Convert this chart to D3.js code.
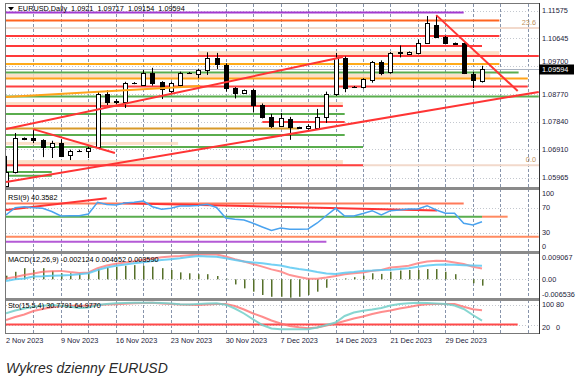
<!DOCTYPE html>
<html><head><meta charset="utf-8">
<script src="https://cdn.jsdelivr.net/npm/d3@7"></script>
<style>
body{margin:0;background:#fff;}
svg{display:block;}
text{font-family:"Liberation Sans",Arial,sans-serif;}
</style>
</head><body>
<svg id="c" width="576" height="382"></svg>
<script>
// ---------------- DATA ----------------
const title = "EURUSD,Daily  1.0921  1.09717  1.09154  1.09594";
const dateLabels = ["2 Nov 2023","9 Nov 2023","16 Nov 2023","23 Nov 2023","30 Nov 2023","7 Dec 2023","14 Dec 2023","21 Dec 2023","29 Dec 2023"];
const dateIdx = [0,6,12,18,24,30,36,42,48];
const priceTicks = [1.11575,1.10645,1.09700,1.08770,1.07840,1.06910,1.05965];
const lastPrice = 1.09594;

const opens  = [1.0568,1.0615,1.0726,1.0728,1.0722,1.0699,1.0712,1.0672,1.0685,1.0686,1.0699,1.0877,1.0849,1.0850,1.0913,1.0907,1.0948,1.0917,1.0887,1.0907,1.0947,1.0944,1.0958,1.0998,1.0974,1.0897,1.0880,1.0890,1.0840,1.0800,1.0770,1.0793,1.0763,1.0763,1.0763,1.0800,1.0877,1.0998,1.0899,1.0901,1.0924,1.0985,1.0951,1.1016,1.1011,1.1015,1.1048,1.1109,1.1069,1.1048,1.1048,1.0944,1.0921];
const highs  = [1.0669,1.0746,1.0731,1.0756,1.0725,1.0720,1.0725,1.0690,1.0690,1.0700,1.0887,1.0890,1.0860,1.0918,1.0917,1.0958,1.0965,1.0920,1.0918,1.0952,1.0951,1.0962,1.1017,1.1015,1.0980,1.0900,1.0892,1.0895,1.0845,1.0810,1.0813,1.0800,1.0767,1.0775,1.0827,1.0885,1.1015,1.1003,1.0904,1.0930,1.0988,1.0990,1.1018,1.1040,1.1020,1.1060,1.1139,1.1142,1.1072,1.1050,1.1050,1.0951,1.09717];
const lows   = [1.0560,1.0610,1.0722,1.0712,1.0665,1.0662,1.0665,1.0655,1.0682,1.0662,1.0693,1.0840,1.0842,1.0830,1.0910,1.0905,1.0905,1.0860,1.0880,1.0900,1.0945,1.0930,1.0941,1.0961,1.0885,1.0862,1.0878,1.0815,1.0795,1.0763,1.0766,1.0723,1.0760,1.0757,1.0758,1.0780,1.0870,1.0883,1.0897,1.0895,1.0915,1.0940,1.0945,1.1000,1.1010,1.1010,1.1045,1.1065,1.1045,1.1044,1.0944,1.0897,1.09154];
const closes = [1.0615,1.0729,1.0728,1.0722,1.0699,1.0712,1.0669,1.0686,1.0687,1.0696,1.0877,1.0850,1.0852,1.0914,1.0915,1.0948,1.0914,1.0894,1.0914,1.0948,1.0949,1.0958,1.0998,1.0978,1.0897,1.0880,1.0890,1.0840,1.0800,1.0770,1.0796,1.0766,1.0765,1.0770,1.0800,1.0877,1.0998,1.0897,1.0902,1.0927,1.0985,1.0948,1.1015,1.1018,1.1018,1.1048,1.1116,1.1069,1.1048,1.1046,1.0948,1.0924,1.09594];

const levelPrices = [1.1151,1.1124,1.1072,1.1038,1.1005,1.0978,1.0949,1.0929,1.0902,1.0869,1.0837,1.0810,1.0783,1.0761,1.0739,1.0699,1.0638,1.0615,1.0602];
const levelColors = ["#a23ad0","#ff6420","#ff3a3a","#ff3a3a","#ff3a3a","#ffab1a","#5aad4e","#ffa31a","#ff4040","#5aad4e","#ff4040","#5aad4e","#ff4040","#d79a2a","#5aad4e","#5aad4e","#ff4040","#5aad4e","#5aad4e"];
const levelFrom = [0,0,0,0,0,0,0,0,0,0,0,0,28,0,0,0,0,0,0];
const levelTo   = [50,53.9,53.9,52,58.2,53.9,56,57,57,58.2,36.8,37,37,32,37,39,39,5,5];
const zoneTop    = [1.1021,1.0944,1.0850,1.0716,1.0655];
const zoneBottom = [1.1006,1.0931,1.0837,1.0706,1.0638];
const zoneFrom   = [21,0,0,0,0];
const zoneTo     = [53.9,52.9,36.8,18.8,36.8];
const fibPrices = [1.1099,1.0638];
const fibLabels = ["23.6","0.0"];
const trendRed = [[0,1.0759,36.8,1.1001],[0,1.0581,58.2,1.0884],[47,1.1142,55.9,1.0887],[2.95,1.0759,11.9,1.0679]];
const trendOrange = [[0,1.0867,21.2,1.0904]];

const rsi = [58.4,70.1,71.7,70.1,69.1,64,56.8,57.3,57.3,60,78.7,75.2,74.4,77.6,78.7,80.8,71.7,67.5,69.1,72.8,72.8,73.6,75.5,70.4,53.6,51.5,50.4,45.1,39.2,33.6,37.6,35.5,35.5,36,45.6,57.6,69.1,56.8,56.8,60.8,65.3,58.4,65.3,66.4,68,68,73.3,66.4,61.1,61.1,45.1,42.4,47.5];
const rsiTicks = [100,70,30,0];
const rsiLevelVals = [76.8,55.7,23.7,15.7];
const rsiLevelColors = ["#ff7a5a","#5aad4e","#ff8a60","#b45ad6"];
const rsiLevelFrom = [0,0,0,0];
const rsiLevelTo = [50,52,58.2,35];
const rsiTrends = [[0,66.4,11,85.1],[12.8,77.1,47.1,65.6]];

const macdHist = [0.0012,0.0025,0.0037,0.0031,0.0037,0.0028,0.0020,0.0020,0.0020,0.0025,0.0034,0.0039,0.0042,0.0045,0.0047,0.0045,0.0042,0.0037,0.0031,0.0023,0.0020,0.0017,0.0017,0.0011,0.0002,-0.0017,-0.0030,-0.0041,-0.0052,-0.0058,-0.0058,-0.0061,-0.0058,-0.0052,-0.0041,-0.0028,-0.0001,0.0003,0.0007,0.0012,0.0020,0.0018,0.0025,0.0029,0.0031,0.0031,0.0034,0.0034,0.0025,0.0017,0.0001,-0.0013,-0.0021];
const macdBlue = [-0.0006,0.0000,0.0003,0.0009,0.0010,0.0012,0.0013,0.0014,0.0017,0.0020,0.0031,0.0039,0.0045,0.0049,0.0053,0.0057,0.0061,0.0064,0.0067,0.0070,0.0074,0.0077,0.0076,0.0075,0.0070,0.0064,0.0059,0.0056,0.0053,0.0049,0.0046,0.0039,0.0034,0.0030,0.0024,0.0019,0.0018,0.0022,0.0024,0.0028,0.0029,0.0031,0.0032,0.0034,0.0037,0.0042,0.0046,0.0048,0.0049,0.0048,0.0047,0.0046,0.0045];
const macdRed = [0.0003,0.0008,0.0014,0.0019,0.0025,0.0027,0.0028,0.0024,0.0021,0.0023,0.0037,0.0046,0.0052,0.0056,0.0060,0.0065,0.0069,0.0073,0.0076,0.0077,0.0080,0.0082,0.0083,0.0082,0.0076,0.0067,0.0059,0.0051,0.0042,0.0033,0.0026,0.0014,0.0008,0.0002,0.0002,0.0006,0.0011,0.0017,0.0020,0.0023,0.0028,0.0031,0.0039,0.0042,0.0045,0.0053,0.0059,0.0062,0.0061,0.0056,0.0051,0.0042,0.0036];
const macdTickVals = [0.009067,0,-0.006536];
const macdTickLabels = ["0.009067","0.00","-0.006536"];

const stoK = [55.2,64,70.3,75.9,78.8,81.3,79.1,75.9,71.9,73.4,81.3,84.4,86.6,87.5,88.4,88.4,88.4,87.5,85.9,83.4,82.5,84.4,85.9,86.6,82.2,70.3,54.7,36.6,18.8,7.8,5.3,5.3,5.3,5.3,10.9,18.8,26.6,46.9,57.8,63.4,67.2,71.9,79.7,84.4,86.6,88.1,87.5,85.9,84.4,79.7,68.8,50,32.2];
const stoD = [34.4,43.8,51.6,62.5,68.8,74.1,77.5,78.8,79.1,78.8,81.3,82.5,83.4,85,86.6,87.5,88.4,85.9,84.4,82.8,81.9,81.3,82.8,84.4,84.4,78.1,67.2,54.7,44.4,32.8,23.4,15.6,11.6,8.4,10.9,17.2,23.4,31.3,39.1,45.3,53.1,59.4,64.1,70.3,75,80.3,83.4,84.4,84.4,84.4,76,68,64.98];
const stoTicks = [100,80,20,0];

// ---------------- CHART ----------------
const svg = d3.select("#c");
const L = 6, R = 539;
const x = d3.scaleLinear().domain([0,52]).range([6,482]);
const yP = d3.scaleLinear().domain([1.05965,1.11575]).range([177.5,10.5]);
const yR = d3.scaleLinear().domain([0,100]).range([251.5,189]);
const yM = d3.scaleLinear().domain([-0.006536,0.009067]).range([299,252]);
const yS = d3.scaleLinear().domain([0,100]).range([331,299]);

const panels = [[4,187],[189,251],[253,298],[300,333]];
const defs = svg.append("defs");
panels.forEach((p,k)=>{
  defs.append("clipPath").attr("id","cp"+k).append("rect").attr("x",L).attr("y",p[0]).attr("width",R-L).attr("height",p[1]-p[0]);
});
svg.append("rect").attr("width",576).attr("height",382).attr("fill","#fff");

const gGrid = svg.append("g").attr("shape-rendering","crispEdges");
const gridIdx = d3.range(3,58,3);
panels.forEach((p,k)=>{
  gGrid.selectAll(null).data(gridIdx).join("line")
    .attr("x1",d=>Math.round(x(d))+0.5).attr("x2",d=>Math.round(x(d))+0.5)
    .attr("y1",p[0]).attr("y2",p[1])
    .attr("stroke","#8794ab").attr("stroke-dasharray","3,2").attr("stroke-width",1);
});
gGrid.selectAll(null).data(priceTicks).join("line")
  .attr("x1",L).attr("x2",R).attr("y1",d=>Math.round(yP(d))+0.5).attr("y2",d=>Math.round(yP(d))+0.5)
  .attr("stroke","#c4c8cf").attr("stroke-dasharray","1,2");
gGrid.selectAll(null).data([70,30]).join("line")
  .attr("x1",L).attr("x2",R).attr("y1",d=>Math.round(yR(d))+0.5).attr("y2",d=>Math.round(yR(d))+0.5)
  .attr("stroke","#c4c8cf").attr("stroke-dasharray","1,2");
gGrid.append("line").attr("x1",L).attr("x2",R).attr("y1",Math.round(yM(0))+0.5).attr("y2",Math.round(yM(0))+0.5)
  .attr("stroke","#c4c8cf").attr("stroke-dasharray","1,2");
gGrid.selectAll(null).data([80,20]).join("line")
  .attr("x1",L).attr("x2",R).attr("y1",d=>Math.round(yS(d))+0.5).attr("y2",d=>Math.round(yS(d))+0.5)
  .attr("stroke","#c4c8cf").attr("stroke-dasharray","1,2");

const gM = svg.append("g").attr("clip-path","url(#cp0)");
gM.selectAll(null).data(zoneTop).join("rect")
  .attr("x",(d,i)=>x(zoneFrom[i])).attr("width",(d,i)=>x(zoneTo[i])-x(zoneFrom[i]))
  .attr("y",d=>yP(d)).attr("height",(d,i)=>yP(zoneBottom[i])-yP(d))
  .attr("fill","#fcd9bd").attr("opacity",0.85);
gM.selectAll(null).data(fibPrices).join("line")
  .attr("x1",L).attr("x2",R).attr("y1",d=>yP(d)).attr("y2",d=>yP(d))
  .attr("stroke","#f2d9cb").attr("stroke-width",2);
gM.append("line").attr("x1",L).attr("x2",R).attr("y1",Math.round(yP(lastPrice))+0.5).attr("y2",Math.round(yP(lastPrice))+0.5)
  .attr("stroke","#a9b2c0").attr("stroke-width",1);
gM.selectAll(null).data(levelPrices).join("line")
  .attr("x1",(d,i)=>x(levelFrom[i])).attr("x2",(d,i)=>x(levelTo[i]))
  .attr("y1",d=>yP(d)).attr("y2",d=>yP(d))
  .attr("stroke",(d,i)=>levelColors[i]).attr("stroke-width",2);
svg.selectAll(null).data(fibPrices).join("text")
  .attr("x",536).attr("y",d=>yP(d)-3).attr("text-anchor","end")
  .attr("font-size",7.3).attr("fill","#c0905a").text((d,i)=>fibLabels[i]);
const gC = gM.append("g");
const bars = d3.range(opens.length);
gC.selectAll(null).data(bars).join("line")
  .attr("x1",i=>Math.round(x(i))+0.5).attr("x2",i=>Math.round(x(i))+0.5)
  .attr("y1",i=>yP(highs[i])).attr("y2",i=>yP(lows[i]))
  .attr("stroke","#000").attr("stroke-width",1);
gC.selectAll(null).data(bars).join("rect")
  .attr("x",i=>Math.round(x(i))-2+0.5).attr("width",4)
  .attr("y",i=>Math.round(yP(Math.max(opens[i],closes[i])))+0.5)
  .attr("height",i=>Math.max(0.01,Math.round(yP(Math.min(opens[i],closes[i])))-Math.round(yP(Math.max(opens[i],closes[i])))))
  .attr("fill",i=>closes[i]>=opens[i]?"#fff":"#000").attr("stroke","#000").attr("stroke-width",1);
gM.selectAll(null).data(trendOrange).join("line")
  .attr("x1",d=>x(d[0])).attr("y1",d=>yP(d[1])).attr("x2",d=>x(d[2])).attr("y2",d=>yP(d[3]))
  .attr("stroke","#ffa31a").attr("stroke-width",2);
gM.selectAll(null).data(trendRed).join("line")
  .attr("x1",d=>x(d[0])).attr("y1",d=>yP(d[1])).attr("x2",d=>x(d[2])).attr("y2",d=>yP(d[3]))
  .attr("stroke","#ff3434").attr("stroke-width",2);

const gR = svg.append("g").attr("clip-path","url(#cp1)");
gR.selectAll(null).data(rsiLevelVals).join("line")
  .attr("x1",(d,i)=>x(rsiLevelFrom[i])).attr("x2",(d,i)=>x(rsiLevelTo[i]))
  .attr("y1",d=>yR(d)).attr("y2",d=>yR(d))
  .attr("stroke",(d,i)=>rsiLevelColors[i]).attr("stroke-width",2);
gR.append("line").attr("x1",x(52)).attr("x2",x(54.8)).attr("y1",yR(55.7)).attr("y2",yR(55.7)).attr("stroke","#ff8a60").attr("stroke-width",2);
gR.selectAll(null).data(rsiTrends).join("line")
  .attr("x1",d=>x(d[0])).attr("y1",d=>yR(d[1])).attr("x2",d=>x(d[2])).attr("y2",d=>yR(d[3]))
  .attr("stroke","#ff3434").attr("stroke-width",2);
gR.append("path").datum(rsi)
  .attr("d",d3.line().x((d,i)=>x(i)).y(d=>yR(d)))
  .attr("fill","none").attr("stroke","#4aa3ef").attr("stroke-width",1.5);

const gMa = svg.append("g").attr("clip-path","url(#cp2)");
gMa.selectAll(null).data(macdHist).join("rect")
  .attr("x",(d,i)=>Math.round(x(i))).attr("width",1.5)
  .attr("y",d=>Math.min(yM(d),yM(0))).attr("height",d=>Math.abs(yM(d)-yM(0)))
  .attr("fill","#56702a");
gMa.append("path").datum(macdRed)
  .attr("d",d3.line().x((d,i)=>x(i)).y(d=>yM(d)))
  .attr("fill","none").attr("stroke","#ff7070").attr("stroke-opacity",0.75).attr("stroke-width",2);
gMa.append("path").datum(macdBlue)
  .attr("d",d3.line().x((d,i)=>x(i)).y(d=>yM(d)))
  .attr("fill","none").attr("stroke","#5cc9f2").attr("stroke-opacity",0.85).attr("stroke-width",2);

const gS = svg.append("g").attr("clip-path","url(#cp3)");
gS.append("line").attr("x1",x(0)).attr("x2",x(55.9)).attr("y1",yS(20)).attr("y2",yS(20)).attr("stroke","#ff4a4a").attr("stroke-width",2);
gS.append("path").datum(stoD)
  .attr("d",d3.line().x((d,i)=>x(i)).y(d=>yS(d)))
  .attr("fill","none").attr("stroke","#ff7070").attr("stroke-opacity",0.8).attr("stroke-width",2);
gS.append("path").datum(stoK)
  .attr("d",d3.line().x((d,i)=>x(i)).y(d=>yS(d)))
  .attr("fill","none").attr("stroke","#72cfc9").attr("stroke-opacity",0.85).attr("stroke-width",2);

const gF = svg.append("g").attr("shape-rendering","crispEdges");
gF.append("line").attr("x1",5).attr("x2",R).attr("y1",3.5).attr("y2",3.5).attr("stroke","#777");
[[187,189],[251,253],[298,300]].forEach(s=>{
  gF.append("rect").attr("x",5).attr("y",s[0]).attr("width",R-5+1).attr("height",s[1]-s[0]+1).attr("fill","#8a8a8a");
});
gF.append("line").attr("x1",5).attr("x2",R).attr("y1",333.5).attr("y2",333.5).attr("stroke","#777");
gF.append("line").attr("x1",5.5).attr("x2",5.5).attr("y1",3).attr("y2",334).attr("stroke","#777");
gF.append("line").attr("x1",R+0.5).attr("x2",R+0.5).attr("y1",3).attr("y2",334).attr("stroke","#333");

const tc = "#1b1b3a";
svg.selectAll(null).data(priceTicks).join("text")
  .attr("x",542).attr("y",d=>d===1.097?yP(d)-2.5:yP(d)+2.6).attr("font-size",7.3).attr("fill",tc)
  .text(d=>d.toFixed(5));
svg.append("rect").attr("x",539).attr("y",Math.round(yP(lastPrice))-4.5).attr("width",35).attr("height",10).attr("fill","#000");
svg.append("text").attr("x",542).attr("y",yP(lastPrice)+2.8).attr("font-size",7.3).attr("fill","#fff").text(lastPrice.toFixed(5));

svg.selectAll(null).data(rsiTicks).join("text")
  .attr("x",542).attr("y",(d)=>(d===100?yR(d)+7:d===0?yR(d)-3:yR(d)+2.6)).attr("font-size",7.3).attr("fill",tc).text(d=>d);
svg.selectAll(null).data(macdTickVals).join("text")
  .attr("x",542).attr("y",(d,i)=>i===0?yM(d)+8:i===2?yM(d)-2:yM(d)+2.6).attr("font-size",7.3).attr("fill",tc).text((d,i)=>macdTickLabels[i]);
svg.selectAll(null).data(stoTicks).join("text")
  .attr("x",(d)=>d===100||d===20?542:556).attr("y",d=>d>=80?306.5:330).attr("font-size",7.3).attr("fill",tc).text(d=>d);

svg.selectAll(null).data(dateIdx).join("text")
  .attr("x",d=>x(d)).attr("y",343).attr("font-size",7.3).attr("fill",tc).text((d,i)=>dateLabels[i]);

svg.append("path").attr("d","M8,7 L14,7 L11,10.5 Z").attr("fill","#000");
svg.append("text").attr("x",18).attr("y",10.5).attr("font-size",7.3).attr("fill","#000").attr("xml:space","preserve").text(title);
svg.append("text").attr("x",8).attr("y",199.5).attr("font-size",7.3).attr("fill","#000").text("RSI(9) 40.3582");
svg.append("text").attr("x",8).attr("y",261.5).attr("font-size",7.3).attr("fill","#000").text("MACD(12,26,9) -0.002124 0.004652 0.003590");
svg.append("text").attr("x",8).attr("y",307.5).attr("font-size",7.3).attr("fill","#000").text("Sto(15,5,4) 30.7791 64.9770");

svg.append("text").attr("x",6).attr("y",373).attr("font-family","'Open Sans',sans-serif").attr("font-style","italic")
  .attr("font-size",14).attr("fill","#2a2a2a").text("Wykres dzienny EURUSD");
</script>
</body></html>
